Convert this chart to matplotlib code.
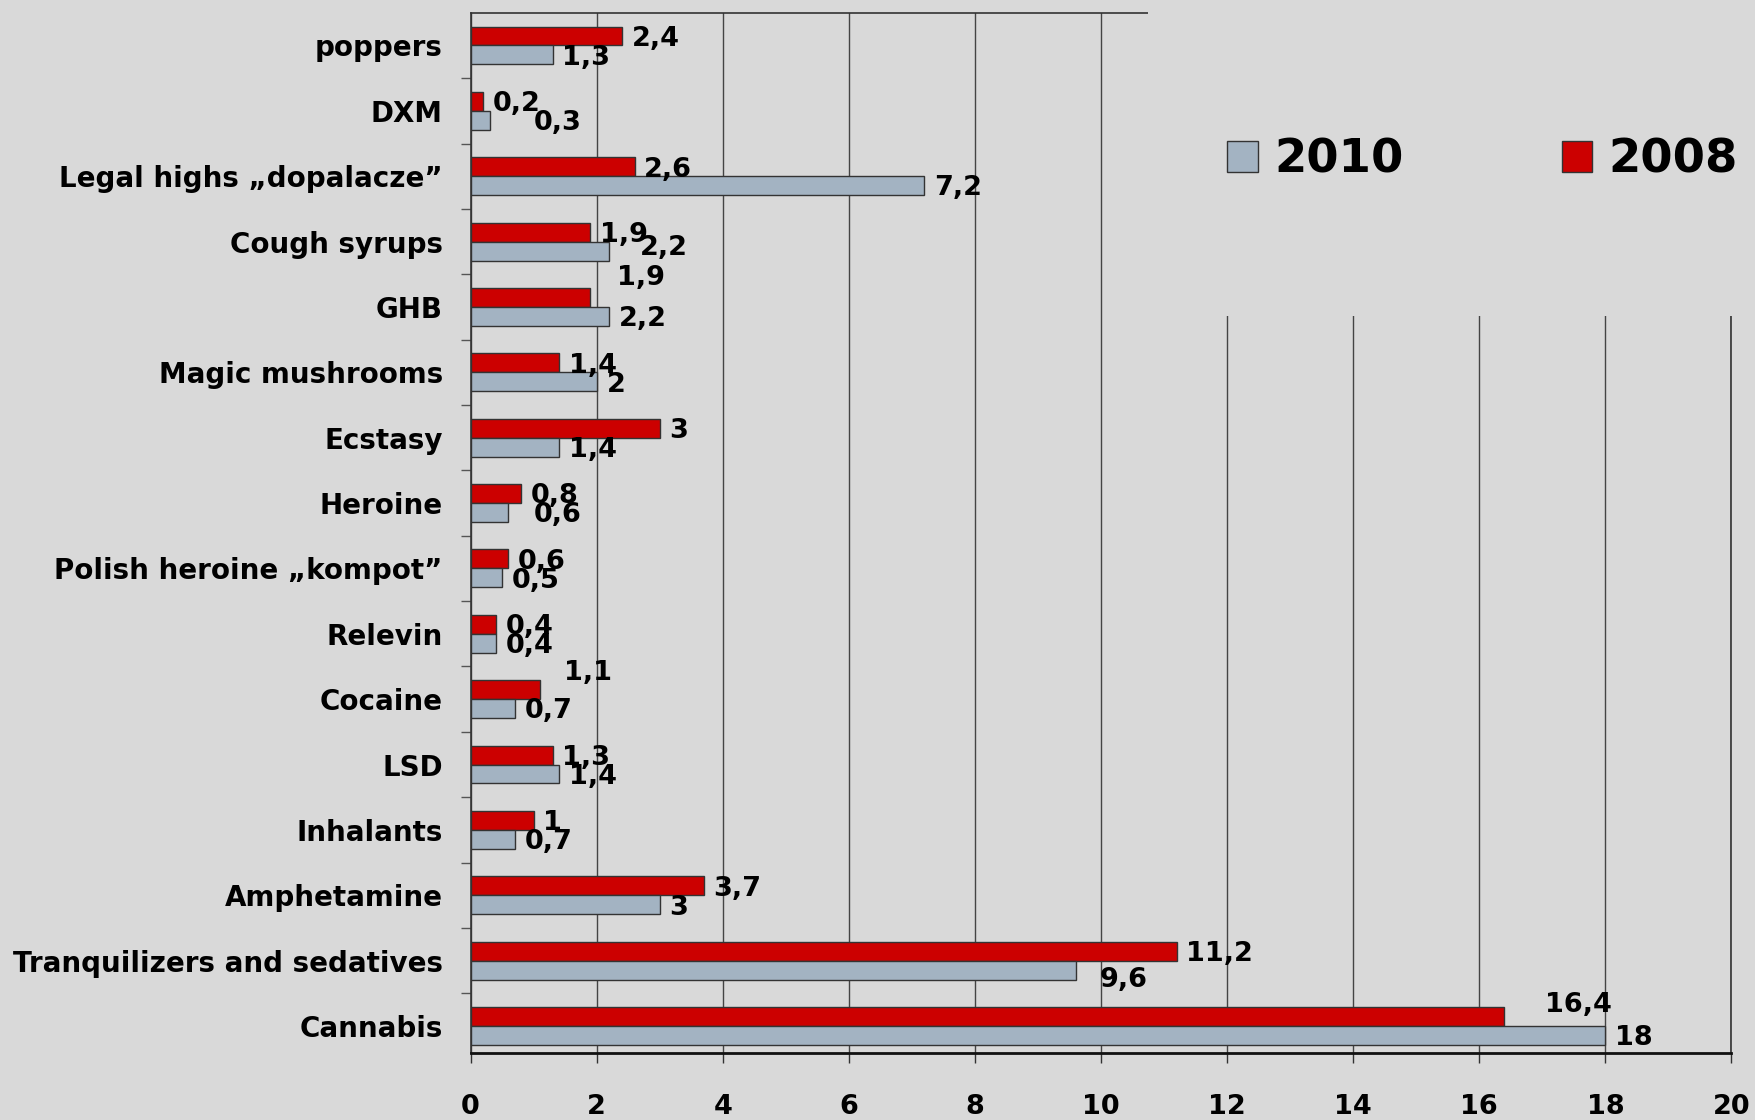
import matplotlib
matplotlib.use("Agg")
import matplotlib.pyplot as plt
from matplotlib.patches import Patch, Rectangle

# categories listed top to bottom, as in the chart
categories = [
    "poppers", "DXM", "Legal highs \u201edopalacze\u201d", "Cough syrups", "GHB",
    "Magic mushrooms", "Ecstasy", "Heroine", "Polish heroine \u201ekompot\u201d",
    "Relevin", "Cocaine", "LSD", "Inhalants", "Amphetamine",
    "Tranquilizers and sedatives", "Cannabis",
]
values_2010 = [1.3, 0.3, 7.2, 2.2, 2.2, 2, 1.4, 0.6, 0.5, 0.4, 0.7, 1.4, 0.7, 3, 9.6, 18]
values_2008 = [2.4, 0.2, 2.6, 1.9, 1.9, 1.4, 3, 0.8, 0.6, 0.4, 1.1, 1.3, 1, 3.7, 11.2, 16.4]
x_ticks = [0, 2, 4, 6, 8, 10, 12, 14, 16, 18, 20]

BG = "#d9d9d9"
RED = "#cc0000"
GREY = "#a3b3c2"
EDGE = "#333333"

# few labels that Excel pushed away from the bar end (points)
LABEL_NUDGE = {
    ("GHB", "2008"): (12, 16),
    ("Cocaine", "2008"): (10, 14),
    ("Cannabis", "2008"): (22, 10),
    ("Tranquilizers and sedatives", "2010"): (10, -5),
    ("Cough syrups", "2010"): (15, 4),
    ("DXM", "2010"): (25, 0),
    ("Heroine", "2010"): (11, 0),
}

plt.rcParams.update({
    "font.family": "DejaVu Sans",
    "font.weight": "bold",
})

fig = plt.figure(figsize=(17.56, 11.2), dpi=100, facecolor=BG)
ax = fig.add_axes([0.268, 0.060, 0.718, 0.928], facecolor=BG)

n = len(categories)
pos = [n - 1 - i for i in range(n)]
h = 0.29

bars_2008 = ax.barh([p + h / 2 for p in pos], values_2008, height=h, color=RED,
                    edgecolor=EDGE, linewidth=1, zorder=3)
bars_2010 = ax.barh([p - h / 2 for p in pos], values_2010, height=h, color=GREY,
                    edgecolor=EDGE, linewidth=1, zorder=3)


def fmt(v):
    return f"{v:g}".replace(".", ",")


for year, bars, vals in (("2008", bars_2008, values_2008), ("2010", bars_2010, values_2010)):
    for cat, bar, v in zip(categories, bars, vals):
        dx, dy = LABEL_NUDGE.get((cat, year), (0, 0))
        ax.annotate(fmt(v), (v, bar.get_y() + bar.get_height() / 2),
                    xytext=(7 + dx, -2 + dy), textcoords="offset points",
                    ha="left", va="center", fontsize=19.5, fontweight="bold",
                    zorder=4)

ax.set_xlim(0, 20)
ax.set_ylim(-0.41, n - 0.51)
ax.set_xticks(x_ticks)
ax.set_xticklabels([str(t) for t in x_ticks], fontsize=19.5, fontweight="bold")
ax.tick_params(axis="x", length=7, width=1, pad=23, color="#333333")

ax.set_yticks(pos)
ax.set_yticklabels(categories, fontsize=20, fontweight="bold")
ax.tick_params(axis="y", length=0, pad=20)
# little ticks on category boundaries
ax.set_yticks([p + 0.5 for p in range(n - 1)], minor=True)
ax.tick_params(axis="y", which="minor", length=7, width=1, color="#555555")

ax.grid(axis="x", color="#444444", linewidth=1, zorder=0)
ax.set_axisbelow(True)
for side in ("top", "right", "left"):
    ax.spines[side].set_color("#333333")
    ax.spines[side].set_linewidth(1.2)
ax.spines["bottom"].set_color("#111111")
ax.spines["bottom"].set_linewidth(2)

# legend sits on a plain patch that hides the grid in the upper right
cover = Rectangle((0.654, 0.718), 0.346, 0.282, transform=fig.transFigure,
                  facecolor=BG, edgecolor="none", zorder=5)
fig.add_artist(cover)

handles = [Patch(facecolor=GREY, edgecolor=EDGE, label="2010"),
           Patch(facecolor=RED, edgecolor=EDGE, label="2008")]
leg = fig.legend(handles=handles, loc="center left", bbox_to_anchor=(0.699, 0.857),
                 ncol=2, frameon=False, prop={"size": 33.5, "weight": "bold"},
                 handlelength=0.65, handleheight=0.65, handletextpad=0.35,
                 columnspacing=3.4, borderpad=0, borderaxespad=0)
leg.set_zorder(6)

fig.savefig("out.png", dpi=100, facecolor=BG)
